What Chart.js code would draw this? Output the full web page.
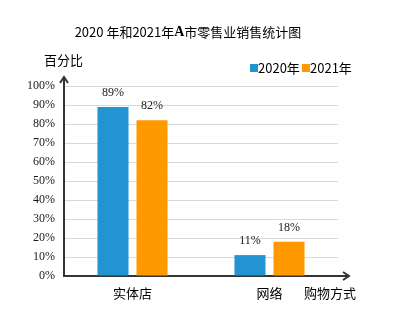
<!DOCTYPE html>
<html>
<head>
<meta charset="utf-8">
<script src="https://cdn.jsdelivr.net/npm/chart.js@4"></script>
<style>
  html, body { margin: 0; padding: 0; background: #fff; }
  #wrap { width: 402px; height: 322px; }
</style>
</head>
<body>
<div id="wrap"><canvas id="salesChart" width="402" height="322"></canvas></div>
<script>
// data //
const categories = ["实体店", "网络"];
const seriesNames = ["2020年", "2021年"];
const values2020 = [89, 11];
const values2021 = [82, 18];
const yTicks = [0, 10, 20, 30, 40, 50, 60, 70, 80, 90, 100];

const cjk = '"Noto Sans CJK SC", "Noto Sans", sans-serif';
const serif = '"Liberation Serif", "DejaVu Serif", serif';
const blue = "#2394D2";
const orange = "#FF9900";

// extra drawing: title, legend, arrows, labels //
const extras = {
  id: "extras",
  afterDraw(chart) {
    const ctx = chart.ctx;
    const area = chart.chartArea;
    ctx.save();
    ctx.fillStyle = "#000";
    ctx.textBaseline = "middle";

    // title (bold serif "A" in the middle)
    const parts = [
      ["2020 年和2021年", "13px " + cjk],
      ["A", "bold 14px " + serif],
      ["市零售业销售统计图", "13px " + cjk],
    ];
    let total = 0;
    parts.forEach((p) => { ctx.font = p[1]; total += ctx.measureText(p[0]).width; });
    let tx = 188 - total / 2;
    ctx.textAlign = "left";
    parts.forEach((p) => {
      ctx.font = p[1];
      ctx.fillText(p[0], tx, 32);
      tx += ctx.measureText(p[0]).width;
    });

    // y axis title
    ctx.font = "13px " + cjk;
    ctx.fillText("百分比", 44, 60);

    // legend
    ctx.fillStyle = blue;
    ctx.fillRect(250, 64, 8, 8);
    ctx.fillStyle = orange;
    ctx.fillRect(302, 64, 8, 8);
    ctx.fillStyle = "#000";
    ctx.fillText(seriesNames[0], 258, 68);
    ctx.fillText(seriesNames[1], 310, 68);

    // x axis title
    ctx.fillText("购物方式", 304, 293);

    // arrows
    ctx.strokeStyle = "#333";
    ctx.lineWidth = 2;
    ctx.beginPath();
    ctx.moveTo(area.left, area.top);
    ctx.lineTo(area.left, 77);
    ctx.moveTo(area.left - 4, 83);
    ctx.lineTo(area.left, 77);
    ctx.lineTo(area.left + 4, 83);
    ctx.moveTo(area.right, area.bottom);
    ctx.lineTo(349, area.bottom);
    ctx.moveTo(343, area.bottom - 4);
    ctx.lineTo(349, area.bottom);
    ctx.lineTo(343, area.bottom + 4);
    ctx.stroke();

    // data labels
    ctx.font = "12px " + serif;
    ctx.fillStyle = "#1a1a1a";
    ctx.textAlign = "center";
    chart.data.datasets.forEach((ds, i) => {
      chart.getDatasetMeta(i).data.forEach((bar, j) => {
        ctx.fillText(ds.data[j] + "%", bar.x, bar.y - 14);
      });
    });
    ctx.restore();
  }
};

const ctx = document.getElementById("salesChart").getContext("2d");
const salesChart = new Chart(ctx, {
  type: "bar",
  data: {
    labels: categories,
    datasets: [
      { label: seriesNames[0], data: values2020, backgroundColor: blue },
      { label: seriesNames[1], data: values2021, backgroundColor: orange },
    ],
  },
  options: {
    responsive: false,
    animation: false,
    categoryPercentage: 0.57,
    barPercentage: 0.795,
    layout: { padding: { left: 0, right: 64, top: 86, bottom: 0 } },
    plugins: {
      legend: { display: false },
      title: { display: false },
      tooltip: { enabled: false },
    },
    scales: {
      x: {
        grid: { display: false, drawTicks: false },
        border: { color: "#333", width: 2 },
        ticks: { color: "#000", font: { family: cjk, size: 13 }, padding: 9 },
        afterFit(scale) { scale.height = 46; },
      },
      y: {
        min: 0,
        max: 100,
        afterBuildTicks(scale) { scale.ticks = yTicks.map((v) => ({ value: v })); },
        grid: { color: "#D9D9D9", drawTicks: false },
        border: { color: "#333", width: 2 },
        ticks: {
          color: "#1a1a1a",
          padding: 9,
          font: { family: serif, size: 12 },
          callback: (v) => v + "%",
        },
        afterFit(scale) { scale.width = 64; },
      },
    },
  },
  plugins: [extras],
});
</script>
</body>
</html>
